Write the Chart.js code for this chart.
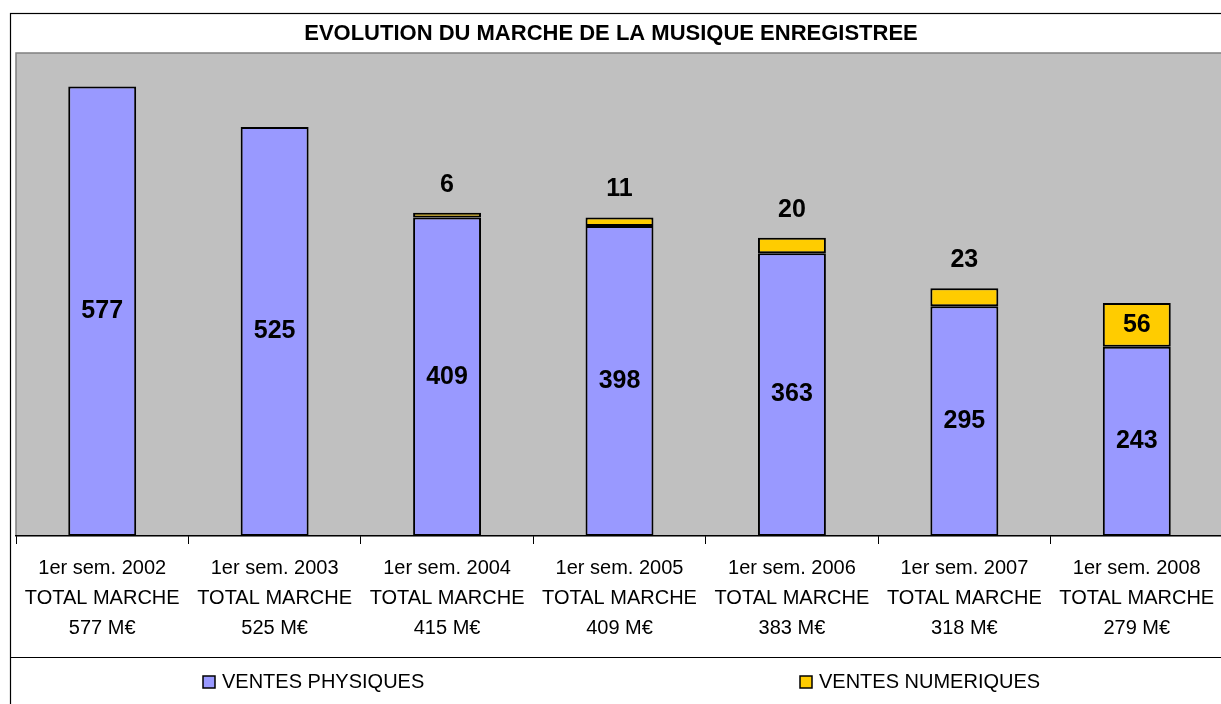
<!DOCTYPE html>
<html>
<head>
<meta charset="utf-8">
<script src="https://cdn.jsdelivr.net/npm/chart.js@4.4.1/dist/chart.umd.min.js"></script>
<style>
  html, body { margin: 0; padding: 0; background: #fff; overflow: hidden; }
  #wrap { width: 1228px; height: 704px; position: relative; }
</style>
</head>
<body>
<div id="wrap"><canvas id="marcheChart" width="1228" height="704"></canvas></div>
<script>
// Marché de la musique enregistrée, 1er semestre, en M€
const periods = ['1er sem. 2002', '1er sem. 2003', '1er sem. 2004', '1er sem. 2005', '1er sem. 2006', '1er sem. 2007', '1er sem. 2008'];
const totals = ['577 M€', '525 M€', '415 M€', '409 M€', '383 M€', '318 M€', '279 M€'];
const physiques = [577, 525, 409, 398, 363, 295, 243];
const numeriques = [null, null, 6, 11, 20, 23, 56];

const chartTitle = 'EVOLUTION DU MARCHE DE LA MUSIQUE ENREGISTREE';

const labels = periods.map((p, i) => [p, 'TOTAL MARCHE', totals[i]]);

// gray plot background + frame + title + legend, drawn Excel style
const frame = {
  id: 'frame',
  beforeDraw(chart) {
    const { ctx, chartArea: a } = chart;
    ctx.save();
    ctx.fillStyle = '#ffffff';
    ctx.fillRect(0, 0, chart.width, chart.height);
    ctx.fillStyle = '#c0c0c0';
    ctx.fillRect(a.left, a.top, a.right - a.left, a.bottom - a.top);
    ctx.strokeStyle = '#808080';
    ctx.lineWidth = 1.5;
    ctx.strokeRect(a.left, a.top, a.right - a.left, a.bottom - a.top);
    ctx.restore();
  },
  afterDraw(chart) {
    const { ctx } = chart;
    ctx.save();
    // outer border
    ctx.strokeStyle = '#000';
    ctx.lineWidth = 1.2;
    ctx.strokeRect(10.5, 13.5, chart.width + 20, chart.height + 20);
    // legend box top line
    ctx.beginPath();
    ctx.moveTo(10, 657.5);
    ctx.lineTo(chart.width, 657.5);
    ctx.stroke();

    // title
    ctx.fillStyle = '#000';
    ctx.font = 'bold 22px "Liberation Sans", Arial, sans-serif';
    ctx.textAlign = 'center';
    ctx.textBaseline = 'middle';
    ctx.fillText(chartTitle, 611, 34);

    // legend
    const legendX = [203, 800];
    ctx.font = '20px "Liberation Sans", Arial, sans-serif';
    ctx.textAlign = 'left';
    chart.data.datasets.forEach((ds, i) => {
      const x = legendX[i];
      ctx.fillStyle = ds.backgroundColor;
      ctx.fillRect(x, 676, 12, 12);
      ctx.strokeStyle = '#000';
      ctx.lineWidth = 1.5;
      ctx.strokeRect(x, 676, 12, 12);
      ctx.fillStyle = '#000';
      ctx.fillText(ds.label, x + 19, 682);
    });
    ctx.restore();
  }
};

// value labels: centred in the bar, or above when the segment is too thin
const valueLabels = {
  id: 'valueLabels',
  afterDatasetsDraw(chart) {
    const { ctx } = chart;
    ctx.save();
    ctx.fillStyle = '#000';
    ctx.font = 'bold 25px "Liberation Sans", Arial, sans-serif';
    ctx.textAlign = 'center';
    ctx.textBaseline = 'middle';
    chart.data.datasets.forEach((ds, di) => {
      chart.getDatasetMeta(di).data.forEach((bar, i) => {
        const v = ds.data[i];
        if (v == null) return;
        const h = bar.base - bar.y;
        const y = h > 35 ? (bar.y + bar.base) / 2 : bar.y - 28;
        ctx.fillText(String(v), bar.x, y);
      });
    });
    ctx.restore();
  }
};

new Chart(document.getElementById('marcheChart'), {
  type: 'bar',
  data: {
    labels: labels,
    datasets: [
      {
        label: 'VENTES PHYSIQUES',
        data: physiques,
        backgroundColor: '#9999ff',
        borderColor: '#000',
        borderWidth: 2,
        borderSkipped: false,
        barPercentage: 0.394,
        categoryPercentage: 1
      },
      {
        label: 'VENTES NUMERIQUES',
        data: numeriques,
        backgroundColor: '#ffcc00',
        borderColor: '#000',
        borderWidth: 2,
        borderSkipped: false,
        barPercentage: 0.394,
        categoryPercentage: 1
      }
    ]
  },
  options: {
    responsive: false,
    animation: false,
    devicePixelRatio: 1,
    layout: { padding: { top: 53, left: 16, right: 5, bottom: 52 } },
    plugins: {
      legend: { display: false },
      title: { display: false },
      tooltip: { enabled: false }
    },
    scales: {
      x: {
        stacked: true,
        border: { display: true, color: '#000', width: 1.2 },
        grid: { display: true, offset: true, drawOnChartArea: false, drawTicks: true, tickLength: 8, color: '#000', lineWidth: 1 },
        ticks: {
          color: '#000',
          padding: 9,
          maxRotation: 0,
          autoSkip: false,
          font: { family: '"Liberation Sans", Arial, sans-serif', size: 20, lineHeight: 1.5 }
        }
      },
      y: {
        stacked: true,
        display: false,
        min: 0,
        max: 620
      }
    }
  },
  plugins: [frame, valueLabels]
});
</script>
</body>
</html>
